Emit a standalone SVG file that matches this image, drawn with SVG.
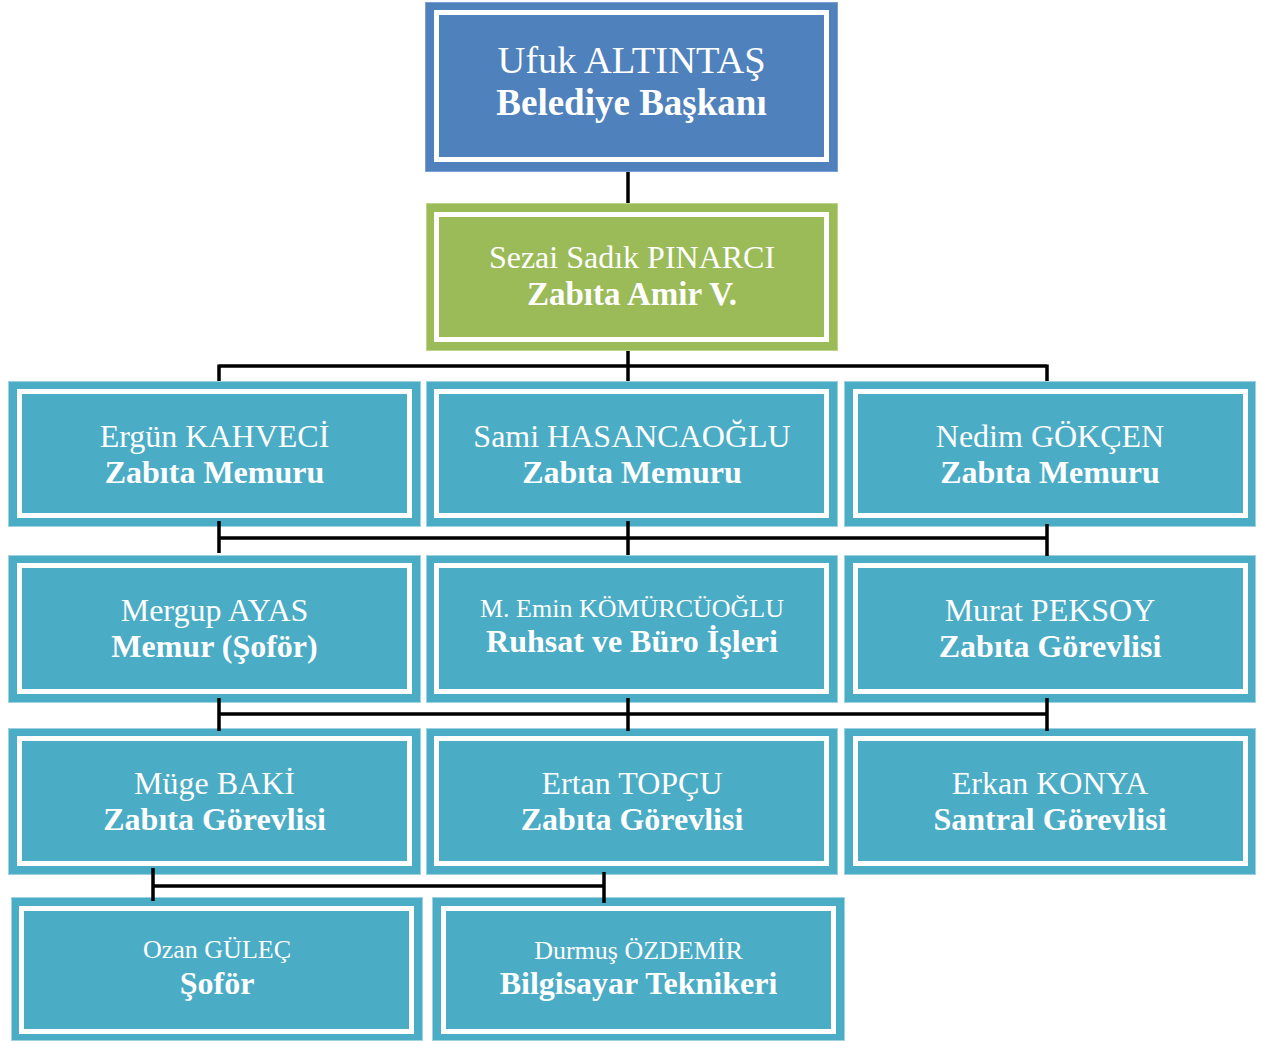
<svg xmlns="http://www.w3.org/2000/svg" width="1262" height="1041" viewBox="0 0 1262 1041">
<style>
.o{stroke-width:1}
.blue{fill:#4F81BD;stroke:#7A9FD0}
.green{fill:#9BBB59;stroke:#BCD48C}
.teal{fill:#4BACC6;stroke:#9FD2E0}
.in{fill:none;stroke:#FFFFFF;stroke-width:5}
text{font-family:"Liberation Serif","Times New Roman",serif;fill:#FFFFFF;text-anchor:middle}
.n{font-size:32px}
.s{font-size:26px}
.t{font-size:32px;font-weight:bold}
.big{font-size:38.5px}
.bigb{font-size:37px;font-weight:bold}
.c{stroke:#000000;stroke-width:3.5;fill:none}
</style>
<rect width="1262" height="1041" fill="#FFFFFF"/>
<g id="n-baskan">
<rect class="o blue" x="425.5" y="2.5" width="412" height="169"/>
<rect class="in" x="436.5" y="12.5" width="390" height="147"/>
<text class="big" x="631.5" y="73">Ufuk ALTINTAŞ</text>
<text class="bigb" x="631.5" y="115">Belediye Başkanı</text>
</g>
<g id="n-amir">
<rect class="o green" x="426.5" y="203.5" width="411" height="147"/>
<rect class="in" x="436.5" y="214.5" width="390" height="125"/>
<text class="n" x="632" y="268">Sezai Sadık PINARCI</text>
<text class="t" x="632" y="305" style="font-size:33px">Zabıta Amir V.</text>
</g>
<g id="n-ergun">
<rect class="o teal" x="8.5" y="381.5" width="412" height="145"/>
<rect class="in" x="19.5" y="391.5" width="390" height="124"/>
<text class="n" x="214.5" y="447">Ergün KAHVECİ</text>
<text class="t" x="214.5" y="483">Zabıta Memuru</text>
</g>
<g id="n-sami">
<rect class="o teal" x="426.5" y="381.5" width="411" height="145"/>
<rect class="in" x="436.5" y="391.5" width="390" height="124"/>
<text class="n" x="632" y="447">Sami HASANCAOĞLU</text>
<text class="t" x="632" y="483">Zabıta Memuru</text>
</g>
<g id="n-nedim">
<rect class="o teal" x="844.5" y="381.5" width="411" height="145"/>
<rect class="in" x="855.5" y="391.5" width="390" height="124"/>
<text class="n" x="1050" y="447">Nedim GÖKÇEN</text>
<text class="t" x="1050" y="483">Zabıta Memuru</text>
</g>
<g id="n-mergup">
<rect class="o teal" x="8.5" y="555.5" width="412" height="147"/>
<rect class="in" x="19.5" y="565.5" width="390" height="126"/>
<text class="n" x="214.5" y="621">Mergup AYAS</text>
<text class="t" x="214.5" y="657">Memur (Şoför)</text>
</g>
<g id="n-emin">
<rect class="o teal" x="426.5" y="555.5" width="411" height="147"/>
<rect class="in" x="436.5" y="565.5" width="390" height="126"/>
<text class="s" x="632" y="617">M. Emin KÖMÜRCÜOĞLU</text>
<text class="t" x="632" y="652">Ruhsat ve Büro İşleri</text>
</g>
<g id="n-murat">
<rect class="o teal" x="844.5" y="555.5" width="411" height="147"/>
<rect class="in" x="855.5" y="565.5" width="390" height="126"/>
<text class="n" x="1050" y="621">Murat PEKSOY</text>
<text class="t" x="1050" y="657">Zabıta Görevlisi</text>
</g>
<g id="n-muge">
<rect class="o teal" x="8.5" y="728.5" width="412" height="146"/>
<rect class="in" x="19.5" y="738.5" width="390" height="125"/>
<text class="n" x="214.5" y="794">Müge BAKİ</text>
<text class="t" x="214.5" y="830">Zabıta Görevlisi</text>
</g>
<g id="n-ertan">
<rect class="o teal" x="426.5" y="728.5" width="411" height="146"/>
<rect class="in" x="436.5" y="738.5" width="390" height="125"/>
<text class="n" x="632" y="794">Ertan TOPÇU</text>
<text class="t" x="632" y="830">Zabıta Görevlisi</text>
</g>
<g id="n-erkan">
<rect class="o teal" x="844.5" y="728.5" width="411" height="146"/>
<rect class="in" x="855.5" y="738.5" width="390" height="125"/>
<text class="n" x="1050" y="794">Erkan KONYA</text>
<text class="t" x="1050" y="830">Santral Görevlisi</text>
</g>
<g id="n-ozan">
<rect class="o teal" x="11.5" y="897.5" width="411" height="143"/>
<rect class="in" x="21.5" y="908.5" width="390" height="123"/>
<text class="s" x="217" y="958">Ozan GÜLEÇ</text>
<text class="t" x="217" y="994">Şoför</text>
</g>
<g id="n-durmus">
<rect class="o teal" x="432.5" y="897.5" width="412" height="143"/>
<rect class="in" x="443.5" y="908.5" width="390" height="123"/>
<text class="s" x="638.5" y="959">Durmuş ÖZDEMİR</text>
<text class="t" x="638.5" y="994">Bilgisayar Teknikeri</text>
</g>
<g id="connectors">
<path class="c" d="M628 172V203"/>
<path class="c" d="M628 351V381M219 366H1047M219 364.5V381M1047 364.5V381"/>
<path class="c" d="M219 538H1047M219 521V553M628 521V555M1047 524V556"/>
<path class="c" d="M219 714H1047M219 698V731M628 698V731M1047 698V731"/>
<path class="c" d="M153 886H604M153 868V901M604 872V903"/>
</g>
</svg>
